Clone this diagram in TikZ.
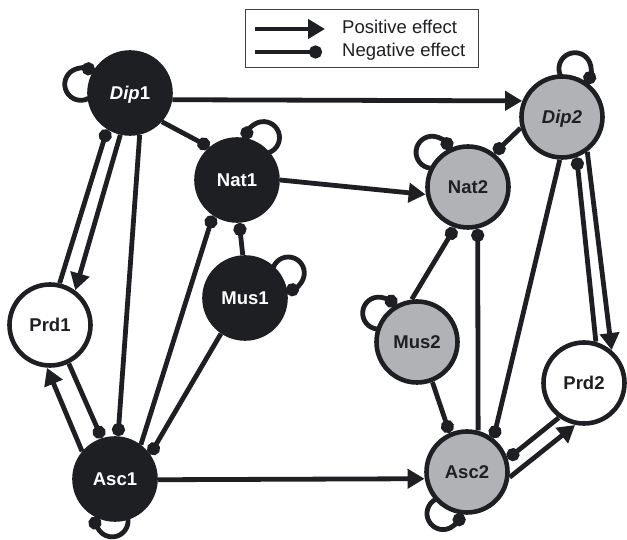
\documentclass[tikz,border=0pt]{standalone}
\usepackage{fontspec}
\setmainfont{Liberation Sans}
\usetikzlibrary{arrows.meta,calc}
\definecolor{dk}{RGB}{30,31,35}
\definecolor{gr}{RGB}{177,178,181}
\newcommand{\sloop}[4]{%
  \pgfmathsetmacro{\lpx}{(#4*#4+42*42-16*16)/(2*#4)}%
  \pgfmathsetmacro{\lpa}{acos(\lpx/42)}%
  \pgfmathsetmacro{\lpb}{atan2(sqrt(42*42-\lpx*\lpx), \lpx-#4)}%
  \draw[negarr] ($(#1)+({#2-(#3)*\lpa}:42pt)$) arc[start angle={#2-(#3)*\lpb}, end angle={#2+(#3)*\lpb}, radius=16pt];
}
\begin{document}
\begin{tikzpicture}[x=1pt,y=1pt,
  nd/.style={circle, minimum size=81pt, inner sep=0pt, outer sep=2.5pt, line width=4.6pt, draw=dk,
    font=\fontsize{18.5}{20}\selectfont\bfseries, text height=13.3pt, text depth=0pt},
  blk/.style={nd, fill=dk, text=white},
  gry/.style={nd, fill=gr, text=dk},
  wht/.style={nd, fill=white, text=dk},
  lnk/.style={line width=4.8pt, draw=dk},
  posarr/.style={lnk, -{Triangle[length=17pt,width=19pt]}},
  negarr/.style={lnk, -{Circle[length=13pt]}},
  legtxt/.style={anchor=base west, inner sep=0pt, text=dk, font=\fontsize{18.5}{20}\selectfont},
]
\useasboundingbox (0,0) rectangle (627,540);
\fill[white] (0,0) rectangle (627,540);

% nodes
\node[blk] (dip1) at (130,447) {\textit{Dip}1};
\node[blk] (nat1) at (237,360) {Nat1};
\node[blk] (mus1) at (245,242) {Mus1};
\node[wht] (prd1) at (50,215) {Prd1};
\node[blk] (asc1) at (115,61) {Asc1};
\node[gry] (dip2) at (562,423) {\textit{Dip2}};
\node[gry] (nat2) at (468,353) {Nat2};
\node[gry] (mus2) at (417,198) {Mus2};
\node[wht] (prd2) at (584,157) {Prd2};
\node[gry] (asc2) at (467,68) {Asc2};

% connectors
\draw[posarr] (dip1.-9) -- (dip2.158);
\draw[negarr] (dip1.-42) -- (nat1.130);
\draw[posarr] (nat1.0) -- (nat2.190);
\draw[negarr] (dip2.195) -- (nat2.52);
\draw[negarr] (prd1.77) -- (dip1.238);
\draw[posarr] (dip1.257) -- (prd1.54);
\draw[negarr] (dip1.283) -- (asc1.86);
\draw[negarr] (prd1.296) -- (asc1.108);
\draw[posarr] (asc1.140) -- (prd1.266);
\draw[negarr] (asc1.53) -- (nat1.236);
\draw[negarr] (mus1.93) -- (nat1.273);
\draw[negarr] (mus1.236) -- (asc1.35);
\draw[posarr] (asc1.-1) -- (asc2.189);
\draw[negarr] (mus2.97) -- (nat2.252);
\draw[negarr] (asc2.75) -- (nat2.283);
\draw[negarr] (mus2.291) -- (asc2.114);
\draw[negarr] (dip2.267) -- (asc2.52);
\draw[negarr] (prd2.74) -- (dip2.290);
\draw[posarr] (dip2.306) -- (prd2.50);
\draw[negarr] (prd2.234) -- (asc2.18);
\draw[posarr] (asc2.-7) -- (prd2.258);

% self loops: node, axis angle, sign, distance
\sloop{dip1}{170}{-1}{50}
\sloop{nat1}{58}{1}{50}
\sloop{mus1}{30}{-1}{50}
\sloop{asc1}{266}{-1}{42}
\sloop{dip2}{75}{-1}{50}
\sloop{nat2}{136}{-1}{50}
\sloop{mus2}{143}{-1}{48}
\sloop{asc2}{240}{1}{48}

% legend
\node[draw=dk!85, line width=1pt, minimum width=233pt, minimum height=58pt, inner sep=0pt] (legend) at (361.5,501) {};
\coordinate (pa) at (255,511);
\coordinate (pb) at (325,511);
\coordinate (na) at (255,488);
\coordinate (nb) at (322,488);
\draw[posarr] (pa) -- (pb);
\draw[negarr] (na) -- (nb);
\node[legtxt] (tpos) at (342,506) {Positive effect};
\node[legtxt] (tneg) at (342,483.3) {Negative effect};
\end{tikzpicture}
\end{document}
